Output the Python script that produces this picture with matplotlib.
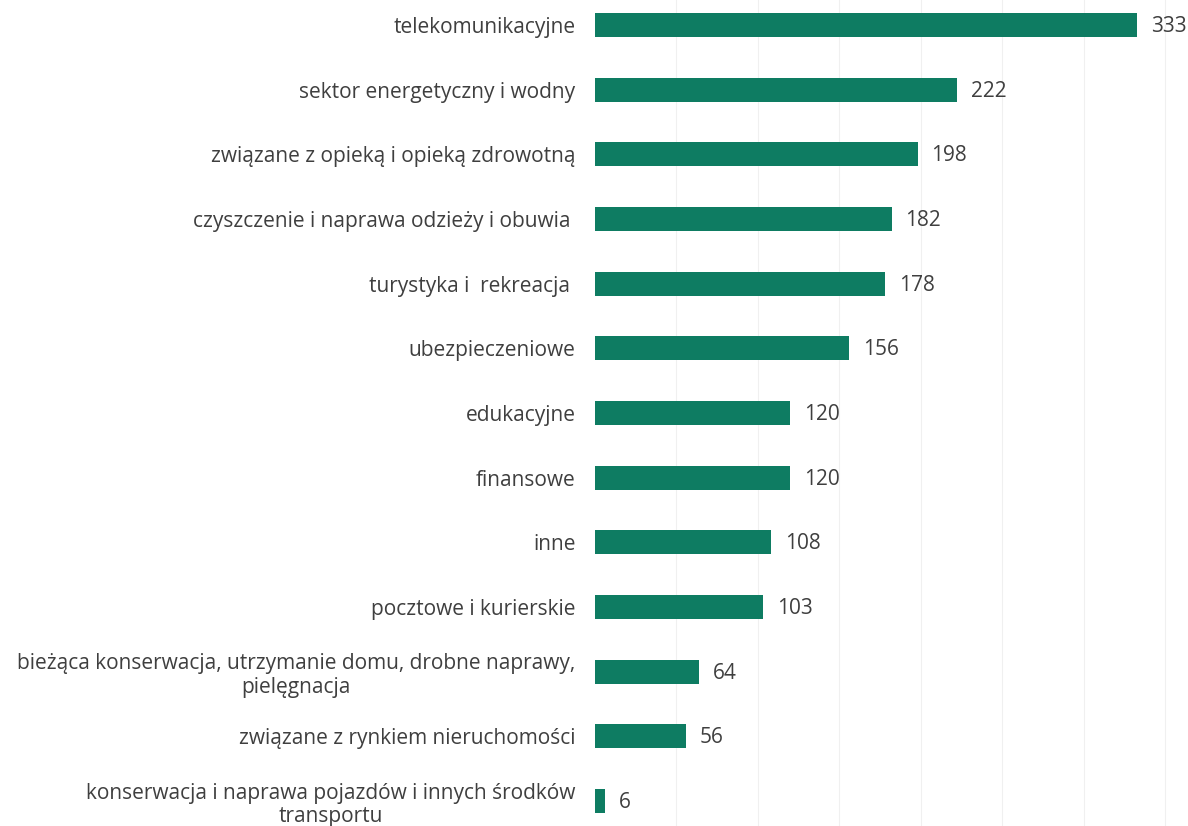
import matplotlib
matplotlib.use('Agg')
import matplotlib.pyplot as plt

categories = [
    'telekomunikacyjne',
    'sektor energetyczny i wodny',
    'związane z opieką i opieką zdrowotną',
    'czyszczenie i naprawa odzieży i obuwia ',
    'turystyka i  rekreacja ',
    'ubezpieczeniowe',
    'edukacyjne',
    'finansowe',
    'inne',
    'pocztowe i kurierskie',
    'bieżąca konserwacja, utrzymanie domu, drobne naprawy,\npielęgnacja',
    'związane z rynkiem nieruchomości',
    'konserwacja i naprawa pojazdów i innych środków\ntransportu',
]
values = [333, 222, 198, 182, 178, 156, 120, 120, 108, 103, 64, 56, 6]

bar_colour = '#0e7c62'
text_colour = '#3f3f3f'

plt.rcParams['font.family'] = ['Open Sans', 'DejaVu Sans']

fig = plt.figure(figsize=(11.88, 8.26), dpi=100)
ax = fig.add_axes([595 / 1188, 0, 593 / 1188, 1])

ypos = list(range(len(categories)))
ax.barh(ypos, values, height=0.37, color=bar_colour, zorder=2)

# value labels just right of each bar
for y, v in zip(ypos, values):
    ax.annotate(str(v), (v, y), xytext=(10, -1), textcoords='offset points',
                va='center', ha='left', fontsize=15, color=text_colour)

ax.set_xlim(0, 364)
ax.set_ylim(12.386, -0.387)
ax.set_xticks(range(50, 351, 50))
ax.grid(axis='x', color='#f0f0f0', linewidth=0.8, zorder=0)
ax.tick_params(axis='x', length=0, labelbottom=False)

ax.set_yticks(ypos)
ax.set_yticklabels(categories, fontsize=15, color=text_colour)
for lbl in ax.get_yticklabels():
    lbl.set_multialignment('center')
    lbl.set_linespacing(1.15)
ax.tick_params(axis='y', length=0, pad=14)

for side in ax.spines.values():
    side.set_visible(False)

fig.savefig('out.png', dpi=100)
